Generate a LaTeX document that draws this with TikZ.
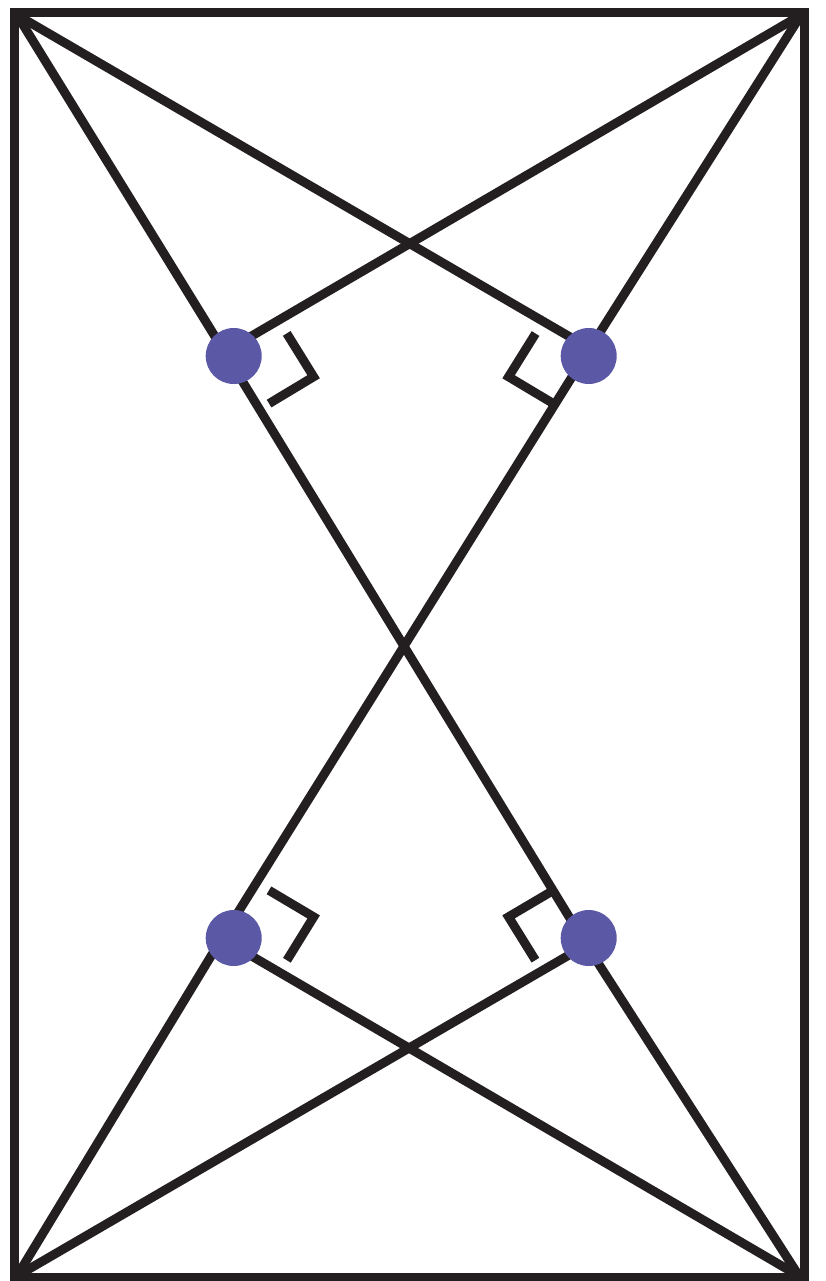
\documentclass[tikz,border=0pt]{standalone}
\usetikzlibrary{calc}
\definecolor{ink}{HTML}{231F20}
\definecolor{dotc}{HTML}{5B59A6}
\begin{document}
\begin{tikzpicture}[x=0.1mm,y=-0.1mm,
  frame/.style={draw=ink,line width=0.9mm,line join=miter},
  edge/.style={draw=ink,line width=0.9mm,line join=round},
  rightmark/.style={draw=ink,line width=0.9mm,line join=miter,line cap=butt},
  dot/.style={circle,fill=dotc,draw=none,minimum size=5.6mm,inner sep=0pt}]
\useasboundingbox (0,0) rectangle (825,1281);
\fill[white] (0,0) rectangle (825,1281);
% frame corners
\coordinate (TL) at (14.5,12.5);
\coordinate (TR) at (804.5,12.5);
\coordinate (BR) at (804.5,1277);
\coordinate (BL) at (14.5,1277);
% line ends at the inner corners
\coordinate (cTL) at (17,15);
\coordinate (cTR) at (801,15);
\coordinate (cBR) at (799,1276);
\coordinate (cBL) at (17,1276);
% dot positions
\coordinate (p1) at (233.7,356);
\coordinate (p2) at (588.7,356);
\coordinate (p3) at (233.7,938);
\coordinate (p4) at (588.7,938);
% pass points of the long lines (hidden under the dots)
\coordinate (a1) at (227,356);
\coordinate (a2) at (582,938);
\coordinate (b1) at (585,356);
\coordinate (b2) at (222,938);
% ends of the short lines (hidden under the dots)
\coordinate (e1) at (234.5,346);
\coordinate (e2) at (585.5,346);
\coordinate (e3) at (234.5,946);
\coordinate (e4) at (584.5,946);
% frame
\draw[frame] (TL) -- (TR) -- (BR) -- (BL) -- cycle;
% long lines
\draw[edge] (cTL) -- (a1) -- (a2) -- (cBR);
\draw[edge] (cTR) -- (b1) -- (b2) -- (cBL);
% short lines
\draw[edge] (cTR) -- (e1);
\draw[edge] (cTL) -- (e2);
\draw[edge] (cBR) -- (e3);
\draw[edge] (cBL) -- (e4);
% right-angle marks: #1 point, #2 along long line, #3 along short line
\newcommand{\ramark}[3]{%
  \draw[rightmark]
    ($(#1)!0.8mm!(#2) + (#1)!5.7mm!(#3) - (#1)$) --
    ($(#1)!5.9mm!(#2) + (#1)!5.7mm!(#3) - (#1)$) --
    ($(#1)!5.9mm!(#2) + (#1)!0.5mm!(#3) - (#1)$);}
\ramark{p1}{BR}{TR}
\ramark{p2}{BL}{TL}
\ramark{p3}{TR}{BR}
\ramark{p4}{TL}{BL}
% dots
\node[dot] (d1) at (p1) {};
\node[dot] (d2) at (p2) {};
\node[dot] (d3) at (p3) {};
\node[dot] (d4) at (p4) {};
\end{tikzpicture}
\end{document}
